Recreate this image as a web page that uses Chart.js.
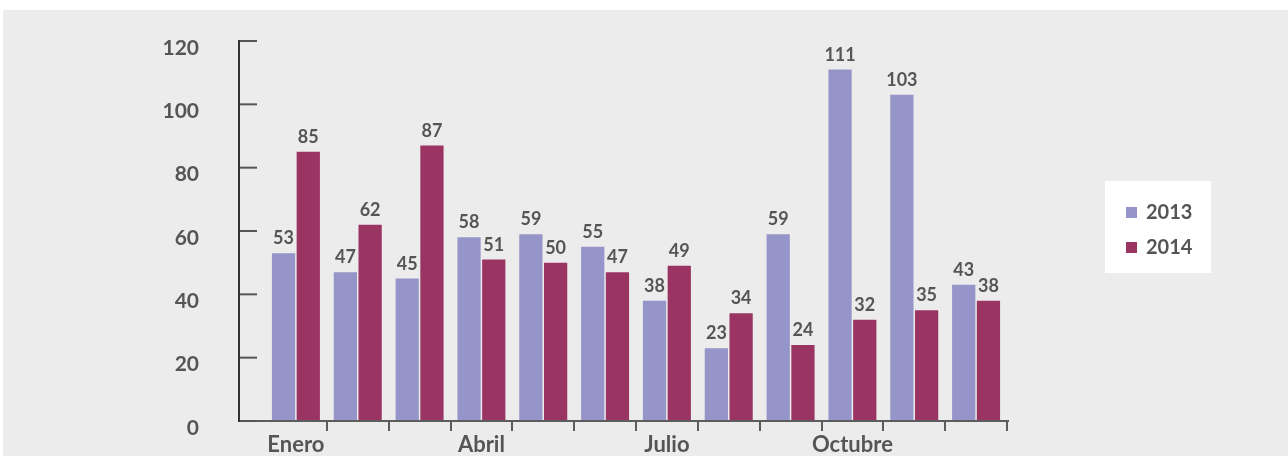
<!DOCTYPE html>
<html>
<head>
<meta charset="utf-8">
<script src="https://cdn.jsdelivr.net/npm/chart.js@4.4.1/dist/chart.umd.min.js"></script>
<style>
  html, body { margin: 0; padding: 0; background: #ffffff; }
  #wrap { position: relative; width: 1288px; height: 456px; overflow: hidden; }
  #bg { position: absolute; left: 3px; top: 10px; width: 1285px; height: 446px; background: #ececec; }
  #c { position: absolute; left: 0; top: 0; }
</style>
</head>
<body>
<div id="wrap">
  <div id="bg"></div>
  <canvas id="c" width="1288" height="456"></canvas>
</div>
<script>
const categories = ['Enero','Febrero','Marzo','Abril','Mayo','Junio','Julio','Agosto','Septiembre','Octubre','Noviembre','Diciembre'];
const tickLabels = ['Enero','','','Abril','','','Julio','','','Octubre','',''];
const seriesNames = ['2013','2014'];
const values2013 = [53,47,45,58,59,55,38,23,59,111,103,43];
const values2014 = [85,62,87,51,50,47,49,34,24,32,35,38];
const yMin = 0, yMax = 120, yStep = 20;

const colors = ['#9595c9', '#9a3463'];
const textColor = '#555555';
const FONT = 'Lato, "Open Sans", sans-serif';

const decor = {
  id: 'decor',
  afterDatasetsDraw(chart) {
    const ctx = chart.ctx;
    const ca = chart.chartArea;
    const ys = chart.scales.y;
    const axisX = 239;
    ctx.save();
    // x axis line
    ctx.strokeStyle = '#5c5c5c';
    ctx.lineWidth = 2;
    ctx.beginPath();
    ctx.moveTo(axisX, ys.getPixelForValue(0));
    ctx.lineTo(ca.right + 2, ys.getPixelForValue(0));
    ctx.stroke();
    // y axis ticks (inward)
    ctx.strokeStyle = '#555555';
    ys.ticks.forEach(t => {
      const py = ys.getPixelForValue(t.value);
      ctx.beginPath();
      ctx.moveTo(axisX, py);
      ctx.lineTo(axisX + 18, py);
      ctx.stroke();
    });
    // y axis line
    ctx.strokeStyle = '#333333';
    ctx.beginPath();
    ctx.moveTo(axisX, ys.getPixelForValue(yMax) - 1);
    ctx.lineTo(axisX, ys.getPixelForValue(0) + 1);
    ctx.stroke();

    // data labels
    ctx.fillStyle = textColor;
    ctx.font = 'bold 18px ' + FONT;
    ctx.textAlign = 'center';
    ctx.textBaseline = 'alphabetic';
    chart.data.datasets.forEach((ds, di) => {
      const meta = chart.getDatasetMeta(di);
      meta.data.forEach((bar, i) => {
        ctx.fillText(String(ds.data[i]), bar.x, bar.y - 9);
      });
    });

    // legend
    ctx.fillStyle = '#ffffff';
    ctx.fillRect(1105, 181, 106, 92);
    ctx.font = 'bold 20px ' + FONT;
    ctx.textAlign = 'left';
    ctx.textBaseline = 'middle';
    chart.data.datasets.forEach((ds, di) => {
      const cy = 212 + di * 35;
      ctx.fillStyle = ds.backgroundColor;
      ctx.fillRect(1126, cy - 5, 11, 11);
      ctx.fillStyle = textColor;
      ctx.fillText(ds.label, 1146, cy + 1);
    });
    ctx.restore();
  }
};

new Chart(document.getElementById('c'), {
  type: 'bar',
  data: {
    labels: categories,
    datasets: [
      { label: seriesNames[0], data: values2013, backgroundColor: colors[0] },
      { label: seriesNames[1], data: values2014, backgroundColor: colors[1] }
    ]
  },
  options: {
    responsive: false,
    animation: false,
    devicePixelRatio: 1,
    layout: { padding: { top: 41, right: 281, bottom: 0, left: 0 } },
    datasets: { bar: { categoryPercentage: 0.8, barPercentage: 0.94 } },
    plugins: { legend: { display: false }, tooltip: { enabled: false } },
    scales: {
      x: {
        offset: true,
        border: { display: false },
        grid: {
          drawOnChartArea: false,
          drawTicks: true,
          tickLength: 10,
          lineWidth: 2,
          color: (c) => c.index === 0 ? 'rgba(0,0,0,0)' : '#5c5c5c'
        },
        ticks: {
          autoSkip: false,
          maxRotation: 0,
          padding: 1,
          color: textColor,
          font: { family: FONT, size: 22, weight: 'bold' },
          callback: (v, i) => tickLabels[i]
        },
        afterFit: (s) => { s.height = 35; s.paddingLeft = 0; s.paddingRight = 0; }
      },
      y: {
        min: yMin, max: yMax,
        border: { display: false },
        grid: { display: false },
        ticks: {
          stepSize: yStep,
          padding: 58,
          labelOffset: 7,
          color: textColor,
          font: { family: FONT, size: 21, weight: 'bold' }
        },
        afterFit: (s) => { s.width = 265; s.paddingTop = 0; s.paddingBottom = 0; }
      }
    }
  },
  plugins: [decor]
});
</script>
</body>
</html>
